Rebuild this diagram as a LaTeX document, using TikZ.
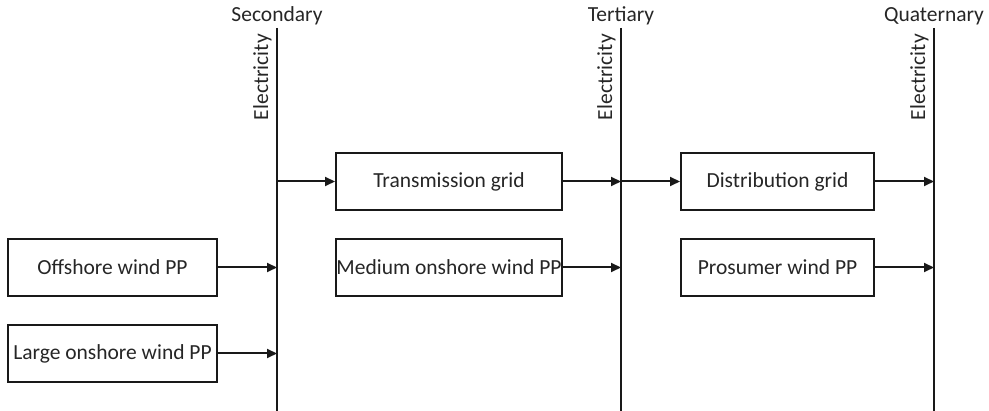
\documentclass[tikz,border=0pt]{standalone}
\usepackage{fontspec}
\setmainfont{Carlito}
\usetikzlibrary{arrows.meta}
\begin{document}
\begin{tikzpicture}[x=1pt,y=-1pt,
  every node/.style={font=\fontsize{21.5}{24}\selectfont, text=black!85},
  unit/.style={draw=black!90, line width=2pt, minimum height=57pt, inner sep=0pt},
  bus/.style={draw=black!90, line width=2pt},
  flow/.style={draw=black!90, line width=2pt, -{Triangle[length=10pt,width=9pt]}},
  level/.style={anchor=base},
  carrier/.style={rotate=90, anchor=base east, inner sep=0pt}]
\useasboundingbox (0,0) rectangle (989,411);

% energy buses (levels)
\coordinate (secT) at (277,28);  \coordinate (secB) at (277,411);
\coordinate (terT) at (621,28);  \coordinate (terB) at (621,411);
\coordinate (quaT) at (934,28);  \coordinate (quaB) at (934,411);
\draw[bus] (secT) -- (secB);
\draw[bus] (terT) -- (terB);
\draw[bus] (quaT) -- (quaB);

\node[level] (secL) at (277,22) {Secondary};
\node[level] (terL) at (621,22) {Tertiary};
\node[level] (quaL) at (934,22) {Quaternary};

\node[carrier] (secE) at (268,34) {Electricity};
\node[carrier] (terE) at (612,34) {Electricity};
\node[carrier] (quaE) at (925,34) {Electricity};

% units
\node[unit, minimum width=209pt] (off) at (112.5,267.5) {Offshore wind PP};
\node[unit, minimum width=209pt] (large) at (112.5,353.5) {Large onshore wind PP};
\node[unit, minimum width=226pt] (trans) at (449,181.5) {Transmission grid};
\node[unit, minimum width=226pt] (med) at (449,267.5) {Medium onshore wind PP};
\node[unit, minimum width=193pt] (dist) at (777.5,181.5) {Distribution grid};
\node[unit, minimum width=193pt] (pros) at (777.5,267.5) {Prosumer wind PP};

% tap points on the buses
\coordinate (secTrans) at (277,181.5);
\coordinate (secOff) at (277,267.5);
\coordinate (secLarge) at (277,353.5);
\coordinate (terTrans) at (621,181.5);
\coordinate (terMed) at (621,267.5);
\coordinate (quaDist) at (934,181.5);
\coordinate (quaPros) at (934,267.5);

% flows
\draw[flow] (off.east) -- (secOff);
\draw[flow] (large.east) -- (secLarge);
\draw[flow] (secTrans) -- (trans.west);
\draw[flow] (trans.east) -- (terTrans);
\draw[flow] (med.east) -- (terMed);
\draw[flow] (terTrans) -- (dist.west);
\draw[flow] (dist.east) -- (quaDist);
\draw[flow] (pros.east) -- (quaPros);
\end{tikzpicture}
\end{document}
